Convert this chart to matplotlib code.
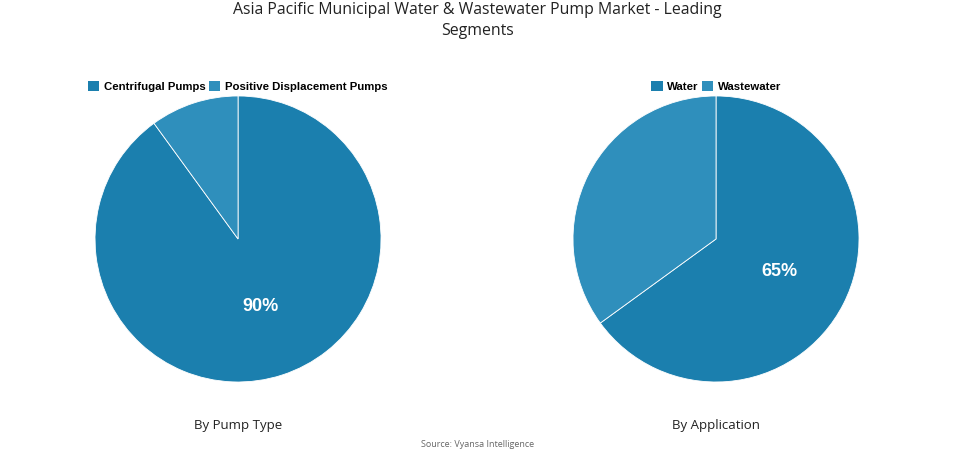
import matplotlib.pyplot as plt
from matplotlib.patches import Patch
import numpy as np

type_labels = ["Centrifugal Pumps", "Positive Displacement Pumps"]
type_values = [90, 10]
app_labels = ["Water", "Wastewater"]
app_values = [65, 35]
colors = ["#1b7fae", "#2f8fbc"]

fig = plt.figure(figsize=(9.55, 4.54), dpi=100)
fig.text(0.5, 0.955, "Asia Pacific Municipal Water & Wastewater Pump Market - Leading\nSegments",
         ha="center", va="center", fontsize=11.4, family="Open Sans", color="#222222", linespacing=1.35)


def draw_pie(left, labels, values, caption, legend_x):
    ax = fig.add_axes([left, 0.1586, 0.2995, 0.63])
    wedges, _ = ax.pie(values, colors=colors, startangle=90, counterclock=False,
                       wedgeprops=dict(edgecolor="white", linewidth=0.6))
    # only the big slice gets a percentage
    w = wedges[0]
    mid = np.deg2rad((w.theta1 + w.theta2) / 2)
    ax.text(0.5 * np.cos(mid), 0.5 * np.sin(mid), f"{values[0]}%", ha="center", va="center",
            color="white", fontsize=13, fontweight="bold", family="Liberation Sans")
    ax.set_xlim(-1, 1)
    ax.set_ylim(-1, 1)
    ax.set_aspect("equal")
    handles = [Patch(facecolor=c) for c in colors]
    fig.legend(handles, labels, loc="center", bbox_to_anchor=(legend_x, 0.81), ncol=2, frameon=False,
               prop=dict(family="Liberation Sans", weight="bold", size=8.2), handlelength=1.0,
               handleheight=1.0, handletextpad=0.4, columnspacing=0.3)
    fig.text(left + 0.2995 / 2, 0.063, caption, ha="center", va="center", fontsize=9.5,
             family="Open Sans", color="#222222")


draw_pie(0.0995, type_labels, type_values, "By Pump Type", 0.249)
draw_pie(0.6, app_labels, app_values, "By Application", 0.75)
fig.text(0.5, 0.02, "Source: Vyansa Intelligence", ha="center", va="center", fontsize=6.5,
         family="Open Sans", color="#666666")

plt.savefig("out.png")
